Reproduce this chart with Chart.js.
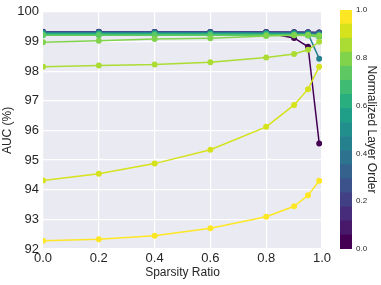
<!DOCTYPE html>
<html>
<head>
<meta charset="utf-8">
<script src="https://cdn.jsdelivr.net/npm/chart.js@4.4.1/dist/chart.umd.min.js"></script>
<style>
  html, body { margin: 0; padding: 0; background: #ffffff; }
  #wrap { position: relative; width: 381px; height: 285px; }
  #mainChart { position: absolute; left: 0; top: 0; }
  #barChart { position: absolute; left: 330px; top: 0; }
</style>
</head>
<body>
<div id="wrap">
  <canvas id="mainChart" width="381" height="285"></canvas>
  <canvas id="barChart" width="51" height="285"></canvas>
</div>
<script>
// sparsity ratios used for every layer
const sparsity = [0, 0.2, 0.4, 0.6, 0.8, 0.9, 0.95, 0.99];

// AUC (%) per layer, layer 0 = first layer
const layer00 = [99.31, 99.31, 99.31, 99.30, 99.29, 99.12, 98.82, 95.56];
const layer01 = [99.32, 99.32, 99.31, 99.31, 99.31, 99.30, 99.30, 99.29];
const layer02 = [99.33, 99.33, 99.32, 99.32, 99.32, 99.31, 99.31, 99.30];
const layer03 = [99.32, 99.32, 99.32, 99.31, 99.31, 99.31, 99.30, 99.30];
const layer04 = [99.31, 99.31, 99.31, 99.31, 99.30, 99.30, 99.30, 99.28];
const layer05 = [99.30, 99.30, 99.30, 99.30, 99.29, 99.29, 99.28, 99.27];
const layer06 = [99.29, 99.29, 99.29, 99.29, 99.28, 99.28, 99.27, 99.25];
const layer07 = [99.28, 99.28, 99.28, 99.28, 99.28, 99.27, 99.26, 98.42];
const layer08 = [99.27, 99.27, 99.27, 99.27, 99.27, 99.26, 99.25, 99.22];
const layer09 = [99.26, 99.26, 99.26, 99.26, 99.26, 99.25, 99.24, 99.21];
const layer10 = [99.25, 99.25, 99.25, 99.25, 99.24, 99.24, 99.23, 99.20];
const layer11 = [99.23, 99.23, 99.23, 99.23, 99.23, 99.22, 99.22, 99.18];
const layer12 = [99.21, 99.21, 99.21, 99.21, 99.21, 99.21, 99.20, 99.15];
const layer13 = [98.97, 99.02, 99.08, 99.11, 99.18, 99.21, 99.22, 99.20];
const layer14 = [98.15, 98.19, 98.22, 98.30, 98.46, 98.58, 98.72, 98.99];
const layer15 = [94.31, 94.54, 94.88, 95.35, 96.12, 96.86, 97.39, 98.15];
const layer16 = [92.28, 92.33, 92.45, 92.70, 93.09, 93.44, 93.81, 94.30];

const layers = [layer00, layer01, layer02, layer03, layer04, layer05, layer06, layer07, layer08,
                layer09, layer10, layer11, layer12, layer13, layer14, layer15, layer16];

// viridis anchors (16 steps) for colouring
const viridis = ['#440154', '#481a6c', '#472f7d', '#414487', '#39568c', '#31688e', '#2a788e', '#23888e',
                 '#1f988b', '#22a884', '#35b779', '#54c568', '#7ad151', '#a5db36', '#d2e21b', '#fde725'];

function hexRgb(h) {
  return [parseInt(h.slice(1, 3), 16), parseInt(h.slice(3, 5), 16), parseInt(h.slice(5, 7), 16)];
}
function cmap(t) {
  const p = t * (viridis.length - 1);
  const i = Math.min(Math.floor(p), viridis.length - 2);
  const f = p - i;
  const a = hexRgb(viridis[i]), b = hexRgb(viridis[i + 1]);
  const c = a.map((v, k) => Math.round(v + (b[k] - v) * f));
  return 'rgb(' + c.join(',') + ')';
}

const n = layers.length;
const textColor = '#262626';
const fontFamily = '"Liberation Sans", Arial, sans-serif';

const bgPlugin = {
  id: 'bg',
  beforeDraw(chart) {
    const a = chart.chartArea, ctx = chart.ctx;
    ctx.save();
    ctx.fillStyle = '#eaeaf2';
    ctx.fillRect(a.left, a.top, a.right - a.left, a.bottom - a.top);
    ctx.restore();
  }
};

var mainDatasets = layers.map(function(vals, i) {
  const col = cmap(i / (n - 1));
  return {
    label: 'layer ' + i,
    data: vals.map((v, j) => ({ x: sparsity[j], y: v })),
    borderColor: col,
    backgroundColor: col,
    borderWidth: 1.5,
    pointRadius: 3,
    pointBorderWidth: 0,
    tension: 0,
    order: n - i   // later layers drawn on top
  };
});

var MainChart = new Chart(document.getElementById('mainChart'), {
  type: 'line',
  data: { datasets: mainDatasets },
  options: {
    responsive: false,
    animation: false,
    layout: { padding: { left: 0, right: 59, top: 10, bottom: 0 } },
    plugins: { legend: { display: false }, tooltip: { enabled: false } },
    scales: {
      x: {
        type: 'linear',
        min: 0,
        max: 1,
        ticks: {
          stepSize: 0.2,
          color: textColor,
          font: { family: fontFamily, size: 13 },
          padding: 2,
          callback: v => v.toFixed(1)
        },
        grid: { color: '#ffffff', lineWidth: 1.2, drawTicks: false },
        border: { display: false },
        title: { display: true, text: 'Sparsity Ratio', color: textColor,
                 font: { family: fontFamily, size: 12 }, padding: { top: 0, bottom: 5 } },
        afterFit: s => { s.height = 36; }
      },
      y: {
        min: 92,
        max: 100,
        ticks: {
          stepSize: 1,
          color: textColor,
          font: { family: fontFamily, size: 13 },
          padding: 4
        },
        grid: { color: '#ffffff', lineWidth: 1.2, drawTicks: false },
        border: { display: false },
        title: { display: true, text: 'AUC (%)', color: textColor,
                 font: { family: fontFamily, size: 12 }, padding: { top: 0, bottom: 0 } },
        afterFit: s => { s.width = 43; }
      }
    }
  },
  plugins: [bgPlugin]
});

// colorbar as a stacked bar on its own scale
var barDatasets = layers.map(function(vals, i) {
  return {
    label: 'c' + i,
    data: [1 / n],
    backgroundColor: cmap(i / (n - 1)),
    borderWidth: 0,
    barPercentage: 1,
    categoryPercentage: 1
  };
});

var BarChart = new Chart(document.getElementById('barChart'), {
  type: 'bar',
  data: { labels: [''], datasets: barDatasets },
  options: {
    responsive: false,
    animation: false,
    layout: { padding: { left: 10, right: 0, top: 10, bottom: 36 } },
    plugins: { legend: { display: false }, tooltip: { enabled: false } },
    scales: {
      x: { stacked: true, display: false },
      y: {
        stacked: true,
        position: 'right',
        min: 0,
        max: 1,
        ticks: {
          stepSize: 0.2,
          color: textColor,
          font: { family: fontFamily, size: 8 },
          padding: 4,
          callback: v => v.toFixed(1)
        },
        grid: { display: false, drawTicks: false },
        border: { display: false },
        title: { display: true, text: 'Normalized Layer Order', color: textColor,
                 font: { family: fontFamily, size: 12 }, padding: { top: 2, bottom: 0 } },
        afterFit: s => { s.width = 29; }
      }
    }
  }
});
</script>
</body>
</html>
